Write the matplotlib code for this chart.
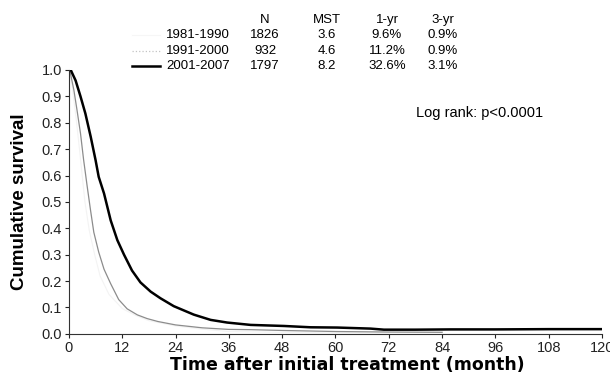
import numpy as np
import matplotlib
matplotlib.use("Agg")
import matplotlib.pyplot as plt
from matplotlib.lines import Line2D

plt.rcParams['font.family'] = ['Liberation Sans', 'DejaVu Sans']

# survival curves (months, cumulative survival)
t_8190 = [0, 0.8, 1.6, 2.5, 3.6, 4.6, 5.8, 7, 9, 12, 15, 18, 24, 30, 36, 48, 60, 72]
s_8190 = [1.0, 0.93, 0.82, 0.68, 0.5, 0.39, 0.3, 0.22, 0.15, 0.096, 0.07, 0.05, 0.03, 0.018, 0.009, 0.006, 0.004, 0.003]

t_9100 = [0, 0.3, 1.1, 1.8, 2.6, 3.3, 4.1, 4.85, 5.6, 6.7, 7.9, 9.4, 11.2, 13.1, 15.4, 17.6, 20,
          24, 30, 36, 41, 48, 60, 72, 84]
s_9100 = [1.0, 0.99, 0.925, 0.85, 0.76, 0.66, 0.56, 0.47, 0.385, 0.31, 0.245, 0.19, 0.13, 0.095, 0.072,
          0.058, 0.047, 0.034, 0.023, 0.017, 0.016, 0.013, 0.009, 0.007, 0.006]

t_0107 = [0, 0.4, 1.5, 2.6, 3.7, 4.9, 6.0, 6.7, 7.9, 9.4, 10.9, 12.4, 14.2, 16.1, 18.4, 20.6, 23.6,
          28.1, 31.9, 35.6, 40.9, 48.4, 54.4, 60.4, 67.9, 70.9, 78, 86, 96, 108, 120]
s_0107 = [1.0, 1.0, 0.96, 0.9, 0.835, 0.747, 0.658, 0.595, 0.532, 0.43, 0.355, 0.30, 0.24, 0.195, 0.16,
          0.135, 0.105, 0.073, 0.053, 0.043, 0.034, 0.030, 0.025, 0.024, 0.02, 0.016, 0.016, 0.017,
          0.017, 0.018, 0.018]

periods = ["1981-1990", "1991-2000", "2001-2007"]
n_pts = ["1826", "932", "1797"]
mst = ["3.6", "4.6", "8.2"]
yr1 = ["9.6%", "11.2%", "32.6%"]
yr3 = ["0.9%", "0.9%", "3.1%"]
headers = ["N", "MST", "1-yr", "3-yr"]

line_colors = ["#f3f3f3", "#8c8c8c", "black"]
legend_colors = ["#f6f6f6", "#c4c4c4", "black"]
legend_styles = ["-", ":", "-"]
widths = [0.8, 0.9, 1.8]

fig = plt.figure(figsize=(6.1, 3.76), dpi=100)
ax = fig.add_axes([0.113, 0.112, 0.874, 0.702])

curves = [(t_8190, s_8190), (t_9100, s_9100), (t_0107, s_0107)]
for (t, s), c, w in zip(curves, line_colors, widths):
    ax.plot(t, s, color=c, lw=w)

ax.set_xlim(0, 120)
ax.set_ylim(0, 1.0)
ax.set_xticks(np.arange(0, 121, 12))
ax.set_yticks(np.arange(0, 1.01, 0.1))
ax.set_yticklabels(["%.1f" % v for v in np.arange(0, 1.01, 0.1)])
ax.spines['top'].set_visible(False)
ax.spines['right'].set_visible(False)
ax.spines['left'].set_color('#333333')
ax.spines['bottom'].set_color('#333333')
ax.tick_params(direction='out', length=3, labelsize=10.5, colors='#222222', pad=2)
ax.set_xlabel("Time after initial treatment (month)", fontsize=12.5, fontweight='bold',
              family=['DejaVu Sans'])
ax.xaxis.set_label_coords(0.522, -0.085)
ax.set_ylabel("Cumulative survival", fontsize=13.5, fontweight='bold', labelpad=10)

ax.text(0.651, 0.82, "Log rank: p<0.0001", transform=ax.transAxes, fontsize=10.5)

# table-style legend at the top
row_y = [1 - 35 / 376, 1 - 51 / 376, 1 - 66 / 376]
head_y = 1 - 20 / 376
col_x = [265 / 610, 327 / 610, 387 / 610, 443 / 610]
for h, x in zip(headers, col_x):
    fig.text(x, head_y, h, ha='center', va='center', fontsize=9.5)
for i, y in enumerate(row_y):
    fig.text(230 / 610, y, periods[i], ha='right', va='center', fontsize=9.5)
    for vals, x in zip([n_pts, mst, yr1, yr3], col_x):
        fig.text(x, y, vals[i], ha='center', va='center', fontsize=9.5)
    fig.add_artist(Line2D([132 / 610, 160 / 610], [y, y], color=legend_colors[i],
                          lw=widths[i], ls=legend_styles[i], transform=fig.transFigure))

fig.savefig("out.png", dpi=100)
